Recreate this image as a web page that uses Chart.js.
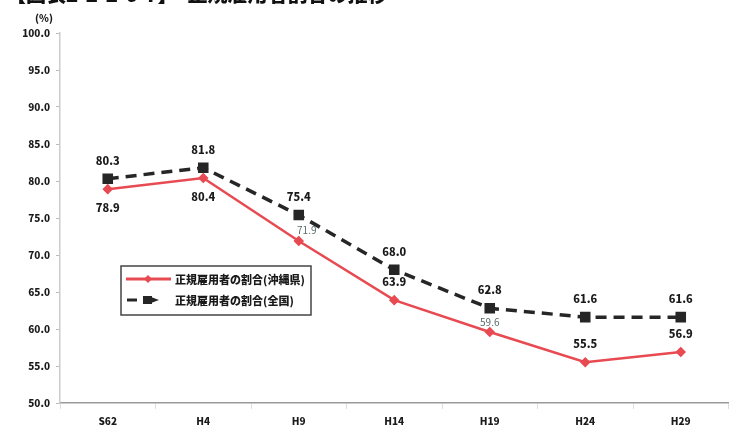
<!DOCTYPE html>
<html lang="ja">
<head>
<meta charset="utf-8">
<script src="https://cdn.jsdelivr.net/npm/chart.js@4"></script>
<style>
  html, body { margin: 0; padding: 0; background: #fff; }
  .wrap { position: relative; width: 737px; height: 434px; overflow: hidden; }
  .title {
    position: absolute; left: 6px; top: -21px; margin: 0;
    font: 900 20px "Noto Sans CJK JP", sans-serif; color: #111; white-space: nowrap;
  }
  canvas { position: absolute; left: 0; top: 0; }
</style>
</head>
<body>
<div class="wrap">
  <canvas id="chart" width="737" height="434"></canvas>
  <p class="title">【図表2-2-2-6-7】　正規雇用者割合の推移</p>
</div>
<script>
const years = ['S62', 'H4', 'H9', 'H14', 'H19', 'H24', 'H29'];
const okinawa = [78.9, 80.4, 71.9, 63.9, 59.6, 55.5, 56.9];
const national = [80.3, 81.8, 75.4, 68.0, 62.8, 61.6, 61.6];
const seriesNames = ['正規雇用者の割合(沖縄県)', '正規雇用者の割合(全国)'];

const jpFont = '"Noto Sans CJK JP", sans-serif';
const RED = '#e84a52';
const DARK = '#262626';

// where each Okinawa value label sits relative to its point
const okinawaPlace = ['below', 'below', 'right', 'above', 'near', 'above', 'above'];

const valueLabels = {
  id: 'valueLabels',
  afterDatasetsDraw(chart) {
    const ctx = chart.ctx;
    ctx.save();
    ctx.textAlign = 'center';
    ctx.textBaseline = 'middle';

    const natMeta = chart.getDatasetMeta(1);
    natMeta.data.forEach((pt, i) => {
      ctx.font = '900 11px ' + jpFont;
      ctx.fillStyle = '#1a1a1a';
      ctx.fillText(national[i].toFixed(1), pt.x, pt.y - 18);
    });

    const okiMeta = chart.getDatasetMeta(0);
    okiMeta.data.forEach((pt, i) => {
      const place = okinawaPlace[i];
      ctx.font = '900 11px ' + jpFont;
      ctx.fillStyle = '#1a1a1a';
      let x = pt.x, y = pt.y;
      if (place === 'below') y += 19;
      else if (place === 'above') y -= 18;
      else if (place === 'right') {
        x += 8; y -= 11;
        ctx.font = '10px ' + jpFont; ctx.fillStyle = '#5a6a6a';
      } else {
        y -= 10;
        ctx.font = '10px ' + jpFont; ctx.fillStyle = '#5a6a6a';
      }
      ctx.fillText(okinawa[i].toFixed(1), x, y);
    });
    ctx.restore();
  }
};

// unit label and the boxed legend inside the plot
const extras = {
  id: 'extras',
  afterDraw(chart) {
    const ctx = chart.ctx;
    ctx.save();
    ctx.font = '900 10px ' + jpFont;
    ctx.fillStyle = '#1a1a1a';
    ctx.textAlign = 'center';
    ctx.textBaseline = 'middle';
    ctx.fillText('(%)', 44, 18);

    const bx = 121, by = 266, bw = 190, bh = 49;
    ctx.fillStyle = '#fff';
    ctx.fillRect(bx, by, bw, bh);
    ctx.strokeStyle = '#444';
    ctx.lineWidth = 1.5;
    ctx.strokeRect(bx, by, bw, bh);

    // red line sample
    const y1 = by + 13, y2 = by + 34;
    ctx.strokeStyle = RED;
    ctx.lineWidth = 3;
    ctx.beginPath(); ctx.moveTo(bx + 5, y1); ctx.lineTo(bx + 50, y1); ctx.stroke();
    ctx.fillStyle = RED;
    ctx.beginPath();
    ctx.moveTo(bx + 27, y1 - 4); ctx.lineTo(bx + 31, y1); ctx.lineTo(bx + 27, y1 + 4); ctx.lineTo(bx + 23, y1);
    ctx.closePath(); ctx.fill();

    // dashed sample
    ctx.strokeStyle = DARK;
    ctx.lineWidth = 3;
    ctx.beginPath(); ctx.moveTo(bx + 6, y2); ctx.lineTo(bx + 16, y2); ctx.stroke();
    ctx.fillStyle = DARK;
    ctx.fillRect(bx + 22, y2 - 4, 9, 8);
    ctx.beginPath(); ctx.moveTo(bx + 30, y2 - 3); ctx.lineTo(bx + 38, y2); ctx.lineTo(bx + 30, y2 + 3); ctx.closePath(); ctx.fill();

    ctx.font = '900 11px ' + jpFont;
    ctx.fillStyle = '#1a1a1a';
    ctx.textAlign = 'left';
    ctx.fillText(seriesNames[0], bx + 54, y1 + 1);
    ctx.fillText(seriesNames[1], bx + 54, y2 + 1);
    ctx.restore();
  }
};

const ctx = document.getElementById('chart').getContext('2d');

const rateChart = new Chart(ctx, {
  type: 'line',
  data: {
    labels: years,
    datasets: [{
      label: seriesNames[0],
      data: okinawa,
      borderColor: RED,
      backgroundColor: RED,
      borderWidth: 2.5,
      pointStyle: 'rectRot',
      pointRadius: 3.5,
      tension: 0
    }, {
      label: seriesNames[1],
      data: national,
      borderColor: DARK,
      backgroundColor: DARK,
      borderWidth: 3.5,
      borderDash: [11, 7],
      pointStyle: 'rect',
      pointRadius: 5,
      tension: 0
    }]
  },
  options: {
    responsive: false,
    animation: false,
    layout: {
      padding: { top: 33, right: 3, left: 0, bottom: 0 }
    },
    plugins: {
      legend: { display: false },
      tooltip: { enabled: false }
    },
    scales: {
      x: {
        offset: true,
        grid: { display: true, drawOnChartArea: false, tickLength: 6, color: '#ddd', offset: true },
        border: { color: '#999', width: 1.5 },
        ticks: {
          font: { family: jpFont, size: 10, weight: '900' },
          color: '#1a1a1a',
          padding: 6
        },
        afterFit: (scale) => { scale.height = 31; }
      },
      y: {
        min: 50,
        max: 100,
        grid: { display: true, drawOnChartArea: false, tickLength: 4, color: '#bbb' },
        border: { color: '#ccc', width: 1.5 },
        ticks: {
          stepSize: 5,
          font: { family: jpFont, size: 10, weight: '900' },
          color: '#1a1a1a',
          padding: 6,
          callback: (v) => Number(v).toFixed(1)
        },
        afterFit: (scale) => { scale.width = 60; }
      }
    }
  },
  plugins: [valueLabels, extras]
});
</script>
</body>
</html>
